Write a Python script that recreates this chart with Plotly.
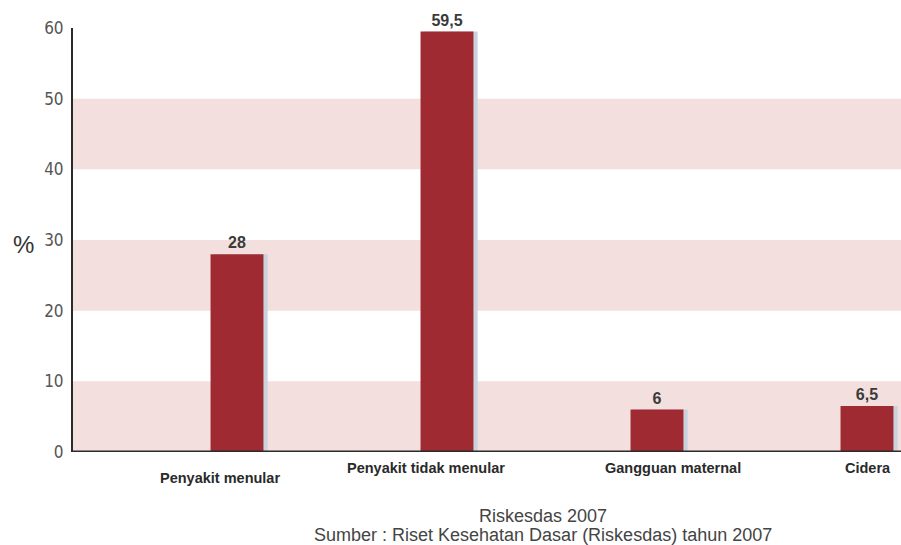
import plotly.graph_objects as go

categories = ["Penyakit menular", "Penyakit tidak menular", "Gangguan maternal", "Cidera"]
values = [28, 59.5, 6, 6.5]
value_labels = ["28", "59,5", "6", "6,5"]
y_ticks = [0, 10, 20, 30, 40, 50, 60]
bands = [(0, 10), (20, 30), (40, 50)]
footer_lines = ["Riskesdas 2007", "Sumber : Riset Kesehatan Dasar (Riskesdas) tahun 2007"]

xs = list(range(len(categories)))
bar_w = 0.252
bar_color = "#A02A31"
band_color = "#F3DFDD"

fig = go.Figure()

# subtle shadow to the right of each bar
fig.add_trace(go.Bar(
    x=[x + 0.02 for x in xs], y=values, width=bar_w,
    marker=dict(color="#C9D3DD", line=dict(width=0)),
    hoverinfo="skip", showlegend=False,
))
fig.add_trace(go.Bar(
    x=xs, y=values, width=bar_w,
    marker=dict(color=bar_color, line=dict(width=0)),
    text=["<b>" + t + "</b>" for t in value_labels], textposition="outside", cliponaxis=False,
    textfont=dict(family="Liberation Sans, Arial", size=16, color="#3a3a3a"),
    showlegend=False,
))
fig.update_layout(barmode="overlay")

shapes = []
for y0, y1 in bands:
    shapes.append(dict(type="rect", xref="paper", yref="y", x0=0, x1=1, y0=y0, y1=y1,
                       fillcolor=band_color, line=dict(width=0), layer="below"))
# x-axis baseline
shapes.append(dict(type="line", xref="paper", yref="y", x0=0, x1=1, y0=0, y1=0,
                   line=dict(color="#2b2b2b", width=3)))

annotations = []
label_offsets = [(-17, 13), (-21, 3), (16, 3), (1, 3)]
for x, cat, (dx, dy) in zip(xs, categories, label_offsets):
    annotations.append(dict(x=x, y=0, xref="x", yref="y", text="<b>" + cat + "</b>",
                            showarrow=False, xshift=dx, yshift=-dy - 3,
                            font=dict(family="Liberation Sans, Arial", size=14.5, color="#2a2a2a"),
                            yanchor="top"))
annotations.append(dict(x=-0.045, y=0.49, xref="paper", yref="paper", text="%", showarrow=False,
                        xanchor="right",
                        font=dict(family="Liberation Sans, Arial", size=24, color="#333")))
footer_y = [-0.151, -0.196]
for line, fy in zip(footer_lines, footer_y):
    annotations.append(dict(x=0.568, y=fy, xref="paper", yref="paper", text=line,
                            showarrow=False, yanchor="middle",
                            font=dict(family="Liberation Sans, Arial", size=18, color="#444")))

fig.update_layout(
    width=901, height=545,
    margin=dict(l=73, r=0, t=28, b=93),
    paper_bgcolor="white", plot_bgcolor="white",
    shapes=shapes, annotations=annotations,
    xaxis=dict(range=[-0.781, 3.162], showticklabels=False, showgrid=False,
               zeroline=False, showline=False, ticks=""),
    yaxis=dict(range=[0, 60], tickvals=y_ticks, ticktext=[str(v) for v in y_ticks],
               showgrid=False, zeroline=False, showline=True, linecolor="#2b2b2b", linewidth=2,
               ticks="", ticklabelstandoff=4,
               tickfont=dict(family="Liberation Sans Narrow, DejaVu Sans Condensed", size=17, color="#555")),
    font=dict(family="Liberation Sans, Arial"),
)

fig.write_html("out.html")
